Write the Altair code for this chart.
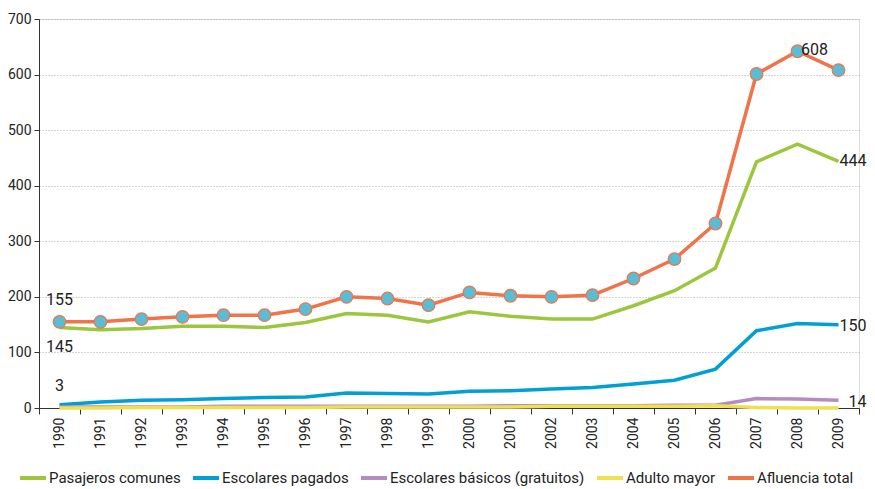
import altair as alt
import pandas as pd

years = [str(y) for y in range(1990, 2010)]
series = ["Pasajeros comunes", "Escolares pagados", "Escolares básicos (gratuitos)",
          "Adulto mayor", "Afluencia total"]
colors = ["#9dc63f", "#00a0d6", "#b48cc1", "#efe052", "#f07349"]

pasajeros = [145, 141, 143, 147, 147, 145, 154, 170, 167, 155, 173, 165, 160, 160, 184, 211, 252, 443, 475, 444]
escolares_pag = [6, 11, 14, 15, 17, 19, 20, 27, 26, 25, 30, 31, 34, 37, 43, 50, 70, 139, 152, 150]
escolares_bas = [2, 2, 2, 2, 3, 3, 3, 3, 3, 3, 3, 4, 4, 4, 4, 5, 5, 17, 16, 14]
adulto = [0, 0, 1, 1, 1, 1, 1, 2, 2, 2, 2, 2, 3, 3, 3, 3, 4, 1, 0, 0]
afluencia = [155, 155, 160, 164, 167, 167, 178, 200, 197, 185, 208, 202, 200, 203, 233, 268, 332, 601, 642, 608]

label_year = ["1990", "1990", "1990", "2009", "2009", "2009", "2009"]
label_value = [155, 145, 6, 608, 444, 150, 14]
label_text = ["155", "145", "3", "608", "444", "150", "14"]
label_align = ["center", "center", "center", "center", "left", "left", "left"]
label_dx = [0, 0, 0, -24, 1, 1, 10]
label_dy = [-22, 20, -19, -20, 0, 1, 2]

rows = []
for name, vals in zip(series, [pasajeros, escolares_pag, escolares_bas, adulto, afluencia]):
    for y, v in zip(years, vals):
        rows.append({"year": y, "value": v, "serie": name})
df = pd.DataFrame(rows)
labels = pd.DataFrame({"year": label_year, "value": label_value, "text": label_text})

FONT = "Roboto"

x = alt.X("year:O", title=None,
          scale=alt.Scale(type="band", paddingInner=0, paddingOuter=0, domain=years),
          axis=alt.Axis(tickBand="extent", labelAngle=-90, labelFontSize=14, labelFont=FONT,
                        labelColor="#222", tickSize=6, tickColor="#333", domainColor="#333",
                        labelPadding=3, grid=False))
y = alt.Y("value:Q", title=None,
          scale=alt.Scale(domain=[0, 700], nice=False),
          axis=alt.Axis(values=list(range(0, 701, 100)), labelFontSize=14, labelFont=FONT,
                        labelColor="#222", tickSize=5, tickColor="#333", domainColor="#333",
                        gridColor="#aaaaaa", gridDash=[1, 2], gridWidth=1, labelPadding=3))

color = alt.Color("serie:N", title=None,
                  scale=alt.Scale(domain=series, range=colors),
                  legend=alt.Legend(orient="none", legendX=-21, legendY=444,
                                    direction="horizontal", columns=5,
                                    symbolType="stroke", symbolStrokeWidth=4, symbolSize=676,
                                    labelFontSize=15, labelFont=FONT, labelColor="#222",
                                    labelLimit=0, columnPadding=4, labelOffset=1,
                                    padding=0))

lines = alt.Chart(df).mark_line(strokeWidth=3.5).encode(x=x, y=y, color=color)
pts = alt.Chart(df).transform_filter(alt.datum.serie == "Afluencia total").mark_point(
    filled=True, size=160, fill="#5bbcd5", stroke="#f07349", strokeWidth=1.2, opacity=1
).encode(x=alt.X("year:O"), y="value:Q")

text_layers = []
for i in range(len(label_text)):
    sub = labels.iloc[[i]]
    text_layers.append(
        alt.Chart(sub).mark_text(fontSize=16, font=FONT, color="#222", align=label_align[i],
                                 dx=int(label_dx[i]), dy=int(label_dy[i])).encode(
            x=alt.X("year:O"), y="value:Q", text="text:N"))

chart = alt.layer(lines, pts, *text_layers).properties(
    width=820, height=389,
    autosize=alt.AutoSizeParams(type="none"),
    padding={"left": 31, "top": 11, "right": 8, "bottom": 78},
).configure_view(stroke=None).configure(background="white")

chart.save("out.html", embed_options={"renderer": "svg", "actions": False})
